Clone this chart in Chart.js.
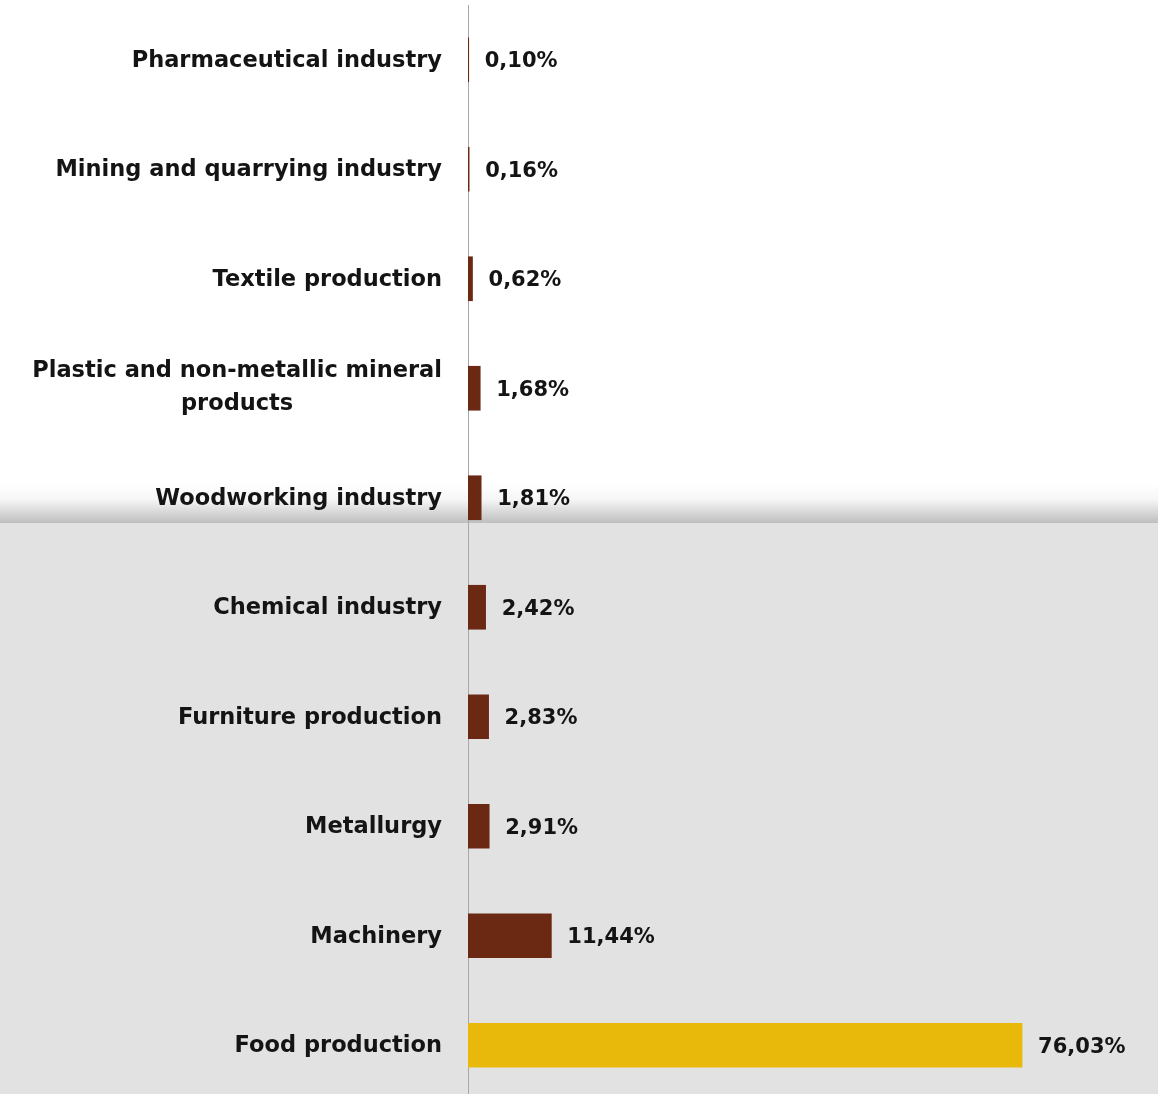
<!DOCTYPE html>
<html><head><meta charset="utf-8">
<script src="https://cdn.jsdelivr.net/npm/chart.js@4/dist/chart.umd.min.js"></script>
<style>html,body{margin:0;padding:0;overflow:hidden;background:#fff}#wrap{width:1158px;height:1100px;position:relative}</style>
</head><body><div id="wrap"><canvas id="c"></canvas></div>
<script>
const categories = [
  ["Pharmaceutical industry"],
  ["Mining and quarrying industry"],
  ["Textile production"],
  ["Plastic and non-metallic mineral", "products"],
  ["Woodworking industry"],
  ["Chemical industry"],
  ["Furniture production"],
  ["Metallurgy"],
  ["Machinery"],
  ["Food production"]
];
const shares = [0.10, 0.16, 0.62, 1.68, 1.81, 2.42, 2.83, 2.91, 11.44, 76.03];
const valueLabels = ["0,10%","0,16%","0,62%","1,68%","1,81%","2,42%","2,83%","2,91%","11,44%","76,03%"];
const barColors = shares.map((v, i) => i === shares.length - 1 ? "#E8B90A" : "#6B2914");

const CAT_FONT = "bold 22.5px 'DejaVu Sans', sans-serif";
const VAL_FONT = "bold 21px 'DejaVu Sans', sans-serif";

const bgPlugin = {
  id: "bg",
  beforeDraw(chart) {
    const ctx = chart.ctx, w = chart.width, h = chart.height;
    ctx.save();
    ctx.fillStyle = "#ffffff";
    ctx.fillRect(0, 0, w, h);
    const g = ctx.createLinearGradient(0, 484, 0, 523);
    g.addColorStop(0, "rgba(255,255,255,1)");
    g.addColorStop(0.4, "#F6F6F6");
    g.addColorStop(1, "#BEBEBE");
    ctx.fillStyle = g;
    ctx.fillRect(0, 484, w, 39);
    ctx.fillStyle = "#E2E2E2";
    ctx.fillRect(0, 523, w, h - 523);
    ctx.restore();
  }
};

const labelPlugin = {
  id: "labels",
  afterDatasetsDraw(chart) {
    const ctx = chart.ctx;
    const y = chart.scales.y;
    const meta = chart.getDatasetMeta(0);
    ctx.save();
    ctx.fillStyle = "#141414";
    ctx.textBaseline = "middle";
    categories.forEach((lines, i) => {
      const cy = y.getPixelForValue(i);
      ctx.font = CAT_FONT;
      if (lines.length === 1) {
        ctx.textAlign = "right";
        ctx.fillText(lines[0], chart.chartArea.left - 26, cy + 1);
      } else {
        const widths = lines.map(l => ctx.measureText(l).width);
        const maxW = Math.max(...widths);
        const cx = chart.chartArea.left - 26 - maxW / 2;
        const lh = 33;
        const top = cy - (lines.length - 1) * lh / 2 - 1;
        ctx.textAlign = "center";
        lines.forEach((l, k) => ctx.fillText(l, cx, top + k * lh));
      }
      const bar = meta.data[i];
      ctx.font = VAL_FONT;
      ctx.textAlign = "left";
      ctx.fillText(valueLabels[i], bar.x + 16, cy + 2);
    });
    ctx.restore();
  }
};

new Chart(document.getElementById("c"), {
  type: "bar",
  data: {
    labels: categories.map(c => c.join(" ")),
    datasets: [{
      data: shares,
      backgroundColor: barColors,
      borderWidth: 0,
      barThickness: 44
    }]
  },
  options: {
    indexAxis: "y",
    responsive: true,
    maintainAspectRatio: false,
    animation: false,
    events: [],
    layout: { padding: { left: 468, right: 107, top: 5, bottom: 0 } },
    plugins: { legend: { display: false }, tooltip: { enabled: false } },
    scales: {
      x: {
        min: 0, max: 80,
        display: false,
        grid: { display: false }
      },
      y: {
        grid: { display: false, drawTicks: false },
        border: { display: true, color: "#A8A8A8", width: 1 },
        ticks: { display: false }
      }
    }
  },
  plugins: [bgPlugin, labelPlugin]
});
</script></body></html>
